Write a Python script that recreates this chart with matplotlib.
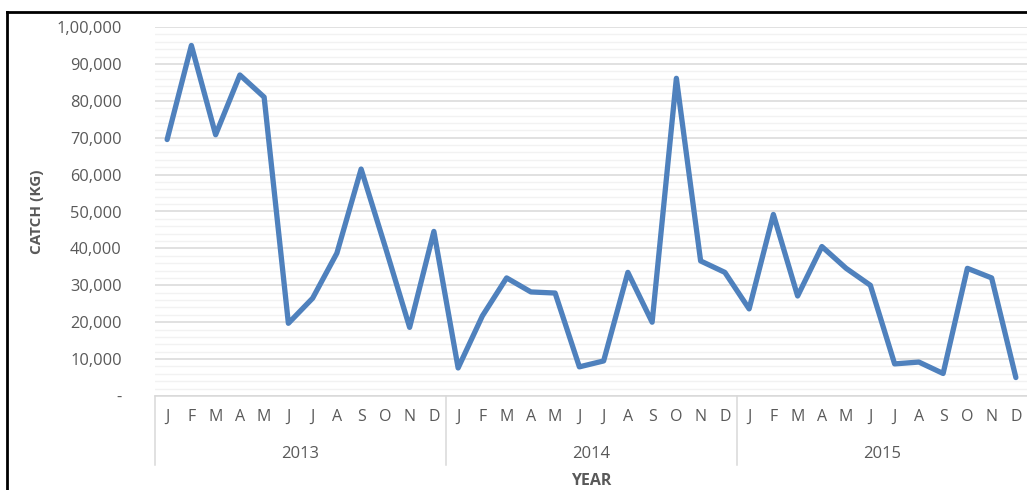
import matplotlib.pyplot as plt
from matplotlib.lines import Line2D
import matplotlib.transforms as mtransforms

plt.rcParams['font.family'] = ['Open Sans', 'DejaVu Sans']

# Dados
anos = ['2013', '2014', '2015']
meses = ['J', 'F', 'M', 'A', 'M', 'J', 'J', 'A', 'S', 'O', 'N', 'D']
captura_2013 = [69500, 95000, 70800, 87000, 81000, 19700, 26500, 38700, 61500, 40300, 18600, 44600]
captura_2014 = [7600, 21700, 32000, 28200, 27900, 7900, 9500, 33500, 20000, 86100, 36600, 33500]
captura_2015 = [23600, 49200, 27100, 40500, 34600, 30000, 8700, 9200, 6100, 34600, 32000, 5000]
rotulos_y = ['-', '10,000', '20,000', '30,000', '40,000', '50,000',
             '60,000', '70,000', '80,000', '90,000', '1,00,000']

captura = captura_2013 + captura_2014 + captura_2015
x = list(range(len(captura)))

cinza_texto = '#595959'

fig = plt.figure(figsize=(10.27, 4.90), dpi=100)
ax = fig.add_axes([155 / 1027, 94 / 490, 873 / 1027, 369 / 490])

# Grade
ax.set_ylim(0, 100000)
ax.set_xlim(-0.5, len(captura) - 0.5)
ax.set_yticks(range(0, 100001, 10000))
ax.set_yticklabels(rotulos_y)
ax.set_yticks(range(0, 100001, 2000), minor=True)
ax.grid(axis='y', which='major', color='#d9d9d9', linewidth=1.1)
ax.grid(axis='y', which='minor', color='#f2f2f2', linewidth=1.0)
ax.set_axisbelow(True)

# Linha principal
ax.plot(x, captura, color='#4f81bd', linewidth=3.8,
        solid_joinstyle='round', solid_capstyle='round', zorder=3)

for lado in ['left', 'right', 'top']:
    ax.spines[lado].set_visible(False)
ax.spines['bottom'].set_color('#d9d9d9')
ax.spines['bottom'].set_linewidth(1.1)

ax.tick_params(axis='y', which='both', length=0, pad=24,
               labelsize=11.8, labelcolor=cinza_texto)
ax.tick_params(axis='x', which='both', length=0, pad=9,
               labelsize=11.5, labelcolor=cinza_texto)
ax.set_xticks(x)
ax.set_xticklabels(meses * len(anos))

# Eixo de categorias em dois níveis
trans = mtransforms.blended_transform_factory(ax.transData, ax.transAxes)
for i in range(len(anos) + 1):
    xs = i * 12 - 0.5
    ax.plot([xs, xs], [0, -69 / 369], transform=trans, color='#d9d9d9',
            linewidth=1.1, clip_on=False)
for i, ano in enumerate(anos):
    ax.text(i * 12 + 5.5, -58 / 369, ano, transform=trans, ha='center',
            va='center', fontsize=12, color=cinza_texto)

ax.text(0.5, -85 / 369, 'YEAR', transform=ax.transAxes, ha='center',
        va='center', fontsize=11.5, fontweight='bold', color=cinza_texto)
ax.text(-118 / 873, 0.5, 'CATCH (KG)', transform=ax.transAxes, rotation=90,
        ha='center', va='center', fontsize=11, fontweight='bold', color=cinza_texto)

# Moldura preta
fig.add_artist(Line2D([7 / 1027, 7 / 1027], [0, 1 - 12 / 490], color='black', linewidth=2))
fig.add_artist(Line2D([7 / 1027, 1], [1 - 12 / 490, 1 - 12 / 490], color='black', linewidth=2))

fig.savefig('out.png', dpi=100)
